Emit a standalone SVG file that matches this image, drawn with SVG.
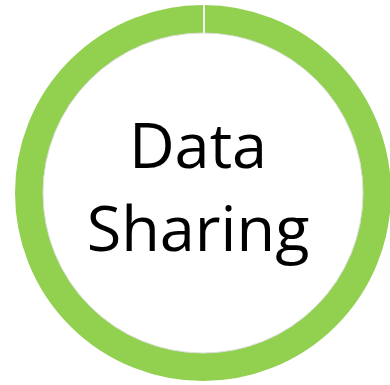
<svg xmlns="http://www.w3.org/2000/svg" width="390" height="385" viewBox="0 0 390 385">
<style>
.ring{fill:none;stroke:#92D050;stroke-width:28}
.edge{fill:none;stroke:#E0E0E0;stroke-width:1}
.lbl{font-family:"Open Sans","Liberation Sans",sans-serif;font-size:63px;fill:#000;text-anchor:middle}
</style>
<rect width="390" height="385" fill="#fff"/>
<g id="ring">
<circle class="ring" cx="203" cy="193" r="174"/>
<circle class="edge" cx="203" cy="193" r="160"/>
<line x1="204" y1="5" x2="204" y2="33" stroke="#F2F2F2" stroke-width="2"/>
</g>
<g id="label">
<text class="lbl" x="198" y="168">Data</text>
<text class="lbl" x="198" y="251">Sharing</text>
</g>
</svg>
